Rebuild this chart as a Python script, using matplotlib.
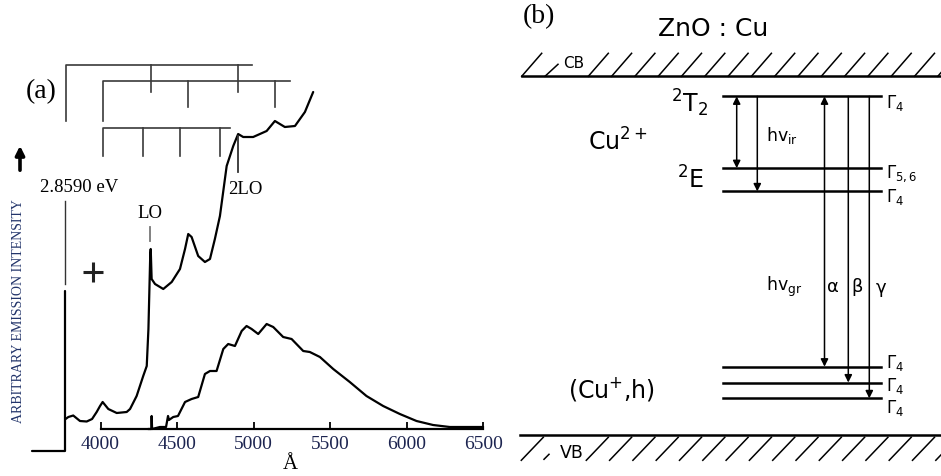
import numpy as np
import matplotlib.pyplot as plt

plt.rcParams['mathtext.fontset'] = 'dejavusans'

W, H = 941, 477
SERIF = 'Liberation Serif'
SANS = 'DejaVu Sans'
NAVY = '#22346a'


def px(x, y):
    # picture pixel (from top-left) -> figure fraction
    return x / W, 1 - y / H


# ---- (a) emission spectrum, wavelength in Angstrom, intensity arbitrary
zpl_wl = 3765
zpl_top = 22.8
zpl_gap = (14.5, 13.8)
zpl_base = -2.2
stub_start = 3553

upper_wl = [3772, 3790, 3822, 3866, 3910, 3945, 3975, 3997, 4014, 4051, 4106,
            4171, 4193, 4236, 4279, 4302, 4313, 4325, 4328, 4334, 4356, 4410,
            4465, 4519, 4552, 4573, 4595, 4638, 4682, 4715, 4747, 4780, 4824,
            4867, 4899, 4932, 4997, 5085, 5139, 5204, 5270, 5335, 5389]
upper_int = [1.0, 1.2, 1.35, 0.8, 0.75, 1.0, 1.7, 2.3, 2.7, 2.0, 1.6,
             1.7, 2.0, 3.3, 5.3, 6.3, 10.0, 17.5, 18.0, 15.0, 14.5, 14.0,
             14.7, 16.0, 18.0, 19.5, 19.2, 17.3, 16.7, 17.0, 19.0, 21.3, 26.3,
             28.3, 29.5, 29.2, 29.2, 29.8, 30.8, 30.2, 30.3, 31.7, 33.7]

lower_wl = [4310, 4332, 4334, 4337, 4388, 4428, 4441, 4447, 4475, 4506, 4552,
            4595, 4638, 4682, 4715, 4758, 4802, 4834, 4878, 4922, 4954, 4987,
            5030, 5085, 5128, 5193, 5248, 5324, 5367, 5433, 5520, 5628, 5737,
            5846, 5955, 6064, 6172, 6281, 6390, 6499]
lower_int = [0, 0, 1.3, 0, 0.2, 0.2, 1.3, 0.9, 1.2, 1.3, 2.7,
             3.0, 3.2, 5.5, 5.8, 5.8, 8.0, 8.5, 8.3, 9.8, 10.3, 10.0,
             9.5, 10.5, 10.2, 9.2, 9.0, 7.8, 7.7, 7.2, 6.0, 4.7, 3.3,
             2.3, 1.5, 0.8, 0.4, 0.2, 0.2, 0.2]

# phonon replica scales above the spectrum: (level, start, end, drop, ticks, tick end)
scale_rows = [
    (36.4, 3773, 4989, 30.8, [4328, 4897], 33.7),
    (34.8, 4018, 5237, 30.8, [4573, 5139], 32.2),
    (30.1, 4018, 4845, 27.3, [4279, 4519, 4780], 27.3),
]
lo_wl, lo_dash = 4323, (20.2, 18.8)
lo2_wl, lo2_dash = 4897, (29.3, 25.7)
plus_pt = (3953, 15.7)

wl_ticks = [4000, 4500, 5000, 5500, 6000, 6500]

# ---- (b) level scheme, energy in eV above the valence band
E_CB, E_VB = 3.4, 0.0
cu2_levels = [3.21, 2.53, 2.31]
cu2_names = [r'$\Gamma_4$', r'$\Gamma_{5,6}$', r'$\Gamma_4$']
cu1_levels = [0.65, 0.50, 0.35]
cu1_names = [r'$\Gamma_4$', r'$\Gamma_4$', r'$\Gamma_4$']

fig = plt.figure(figsize=(W / 100, H / 100), dpi=100)

# panel (a) axes, calibrated to the picture
A_per_px = 2500 / 382.8
ax_a = fig.add_axes([0, 0, 1, 1])
ax_a.set_xlim(4000 - 100.5 * A_per_px, 4000 + (W - 100.5) * A_per_px)
ax_a.set_ylim(-4.7, 43.0)
for s in ['top', 'left', 'right']:
    ax_a.spines[s].set_visible(False)
ax_a.spines['bottom'].set_position(('data', 0))
ax_a.spines['bottom'].set_bounds(wl_ticks[0], wl_ticks[-1])
ax_a.spines['bottom'].set_linewidth(1.6)
ax_a.set_yticks([])
ax_a.set_xticks(wl_ticks)
ax_a.set_xticklabels([str(t) for t in wl_ticks], family=SERIF, fontsize=14,
                     color='#1c2450')
ax_a.tick_params(axis='x', direction='in', length=5, width=1.3, pad=4)
ax_a.patch.set_visible(False)

kw = dict(color='black', lw=1.6, solid_joinstyle='round', solid_capstyle='round')
ax_a.plot([stub_start, zpl_wl, zpl_wl], [zpl_base, zpl_base, zpl_gap[1]], **kw)
ax_a.plot([zpl_wl, zpl_wl], [zpl_gap[0], zpl_top], color='#333333', lw=1.0)
ax_a.plot(upper_wl, upper_int, **kw)
ax_a.plot(lower_wl, lower_int, **kw)

for lev, x0, x1, drop, ticks, tend in scale_rows:
    ax_a.plot([x0, x0, x1], [drop, lev, lev], color='#3a3a3a', lw=1.2)
    for t in ticks:
        ax_a.plot([t, t], [lev, tend], color='#3a3a3a', lw=1.2)

ax_a.plot([lo_wl, lo_wl], lo_dash, color='#777777', lw=1.3)
ax_a.plot([lo2_wl, lo2_wl], lo2_dash, color='#333333', lw=1.3)
ax_a.plot(*plus_pt, marker='+', ms=15, mew=2.2, color='#222222')

fig.text(*px(41.5, 92), '(a)', family=SERIF, fontsize=20, ha='center', va='center')
fig.text(*px(79, 187), '2.8590 eV', family=SERIF, fontsize=13.5, ha='center', va='center')
fig.text(*px(150, 213), 'LO', family=SERIF, fontsize=13.5, ha='center', va='center')
fig.text(*px(245, 190), '2LO', family=SERIF, fontsize=13.5, ha='center', va='center')
fig.text(*px(290, 465), 'Å', family=SERIF, fontsize=15, ha='center', va='center')
fig.text(*px(19, 311), 'ARBITRARY EMISSION INTENSITY', family=SERIF, fontsize=10,
         rotation=90, ha='center', va='center', color=NAVY)
fig.add_artist(plt.matplotlib.patches.FancyArrowPatch(
    px(20, 174), px(20, 144), transform=fig.transFigure, arrowstyle='-|>',
    mutation_scale=13, lw=2.6, color='black'))

# panel (b) axes: x in picture pixels, y in eV
ppe = (436.3 - 77.3) / (E_CB - E_VB)
ax_b = fig.add_axes([0, 0, 1, 1])
ax_b.set_xlim(0, W)
ax_b.set_ylim(E_VB - (477 - 436.3) / ppe, E_VB + 436.3 / ppe)
ax_b.axis('off')

# band edges with hatching
ax_b.plot([521.7, W], [E_CB, E_CB], color='black', lw=1.8)
ax_b.plot([520, W], [E_VB, E_VB], color='black', lw=1.8)
hk = dict(color='black', lw=1.1)
cb_hatch = [521.7] + list(np.arange(588.3, W + 5, 23.3))
for x in cb_hatch:
    ax_b.plot([x, x + 20], [E_CB, E_CB + 23 / ppe], **hk)
ax_b.plot([545, 558], [E_CB, E_CB + 12 / ppe], **hk)
vb_hatch = [543.3] + list(np.arange(608.3, W + 25, 23.3))
for x in vb_hatch:
    ax_b.plot([x, x - 22], [E_VB - 2 / ppe, E_VB - 25 / ppe], **hk)
ax_b.plot([549, 544], [E_VB - 19 / ppe, E_VB - 24 / ppe], **hk)

# levels
lv_x0, lv_x1 = 723.3, 881
for E in cu2_levels + cu1_levels:
    ax_b.plot([lv_x0, lv_x1], [E, E], color='black', lw=1.8)

# level labels
lab_dy = [6, 5, 5, -5, 2, 9]
for E, name, dy in zip(cu2_levels + cu1_levels, cu2_names + cu1_names, lab_dy):
    ax_b.text(886, E - dy / ppe, name, fontsize=12, ha='left', va='center')


# transitions
def arrow(x, e0, e1, style):
    ax_b.annotate('', xy=(x, e1), xytext=(x, e0),
                  arrowprops=dict(arrowstyle=style, lw=1.1, color='black',
                                  mutation_scale=11, shrinkA=0, shrinkB=0))


arrow(736.7, cu2_levels[0], cu2_levels[1], '<|-|>')
arrow(757.3, cu2_levels[0], cu2_levels[2], '-|>')
arrow(824.5, cu1_levels[0], cu2_levels[0], '<|-|>')
arrow(848.3, cu2_levels[0], cu1_levels[1], '-|>')
arrow(869.3, cu2_levels[0], cu1_levels[2], '-|>')

fs = dict(family=SANS, ha='center', va='center')
fig.text(*px(539, 17), '(b)', family=SERIF, fontsize=20, ha='center', va='center')
fig.text(*px(713, 29), 'ZnO : Cu', fontsize=18, **fs)
fig.text(*px(574, 63), 'CB', fontsize=11, **fs)
fig.text(*px(572, 453), 'VB', fontsize=12.5, **fs)
fig.text(*px(690, 103), r'$^{2}$T$_{2}$', fontsize=17, **fs)
fig.text(*px(618, 142), r'Cu$^{2+}$', fontsize=17, **fs)
fig.text(*px(690, 180), r'$^{2}$E', fontsize=17, **fs)
fig.text(*px(782, 136), r'hv$_{\mathrm{ir}}$', fontsize=12.5, **fs)
fig.text(*px(784, 287), r'hv$_{\mathrm{gr}}$', fontsize=12.5, **fs)
fig.text(*px(833, 287), 'α', fontsize=13, **fs)
fig.text(*px(857.5, 287), 'β', fontsize=13, **fs)
fig.text(*px(881, 288), 'γ', fontsize=13, **fs)
fig.text(*px(612, 389), r'(Cu$^{+}$,h)', fontsize=17, **fs)

fig.savefig('out.png', dpi=100)
